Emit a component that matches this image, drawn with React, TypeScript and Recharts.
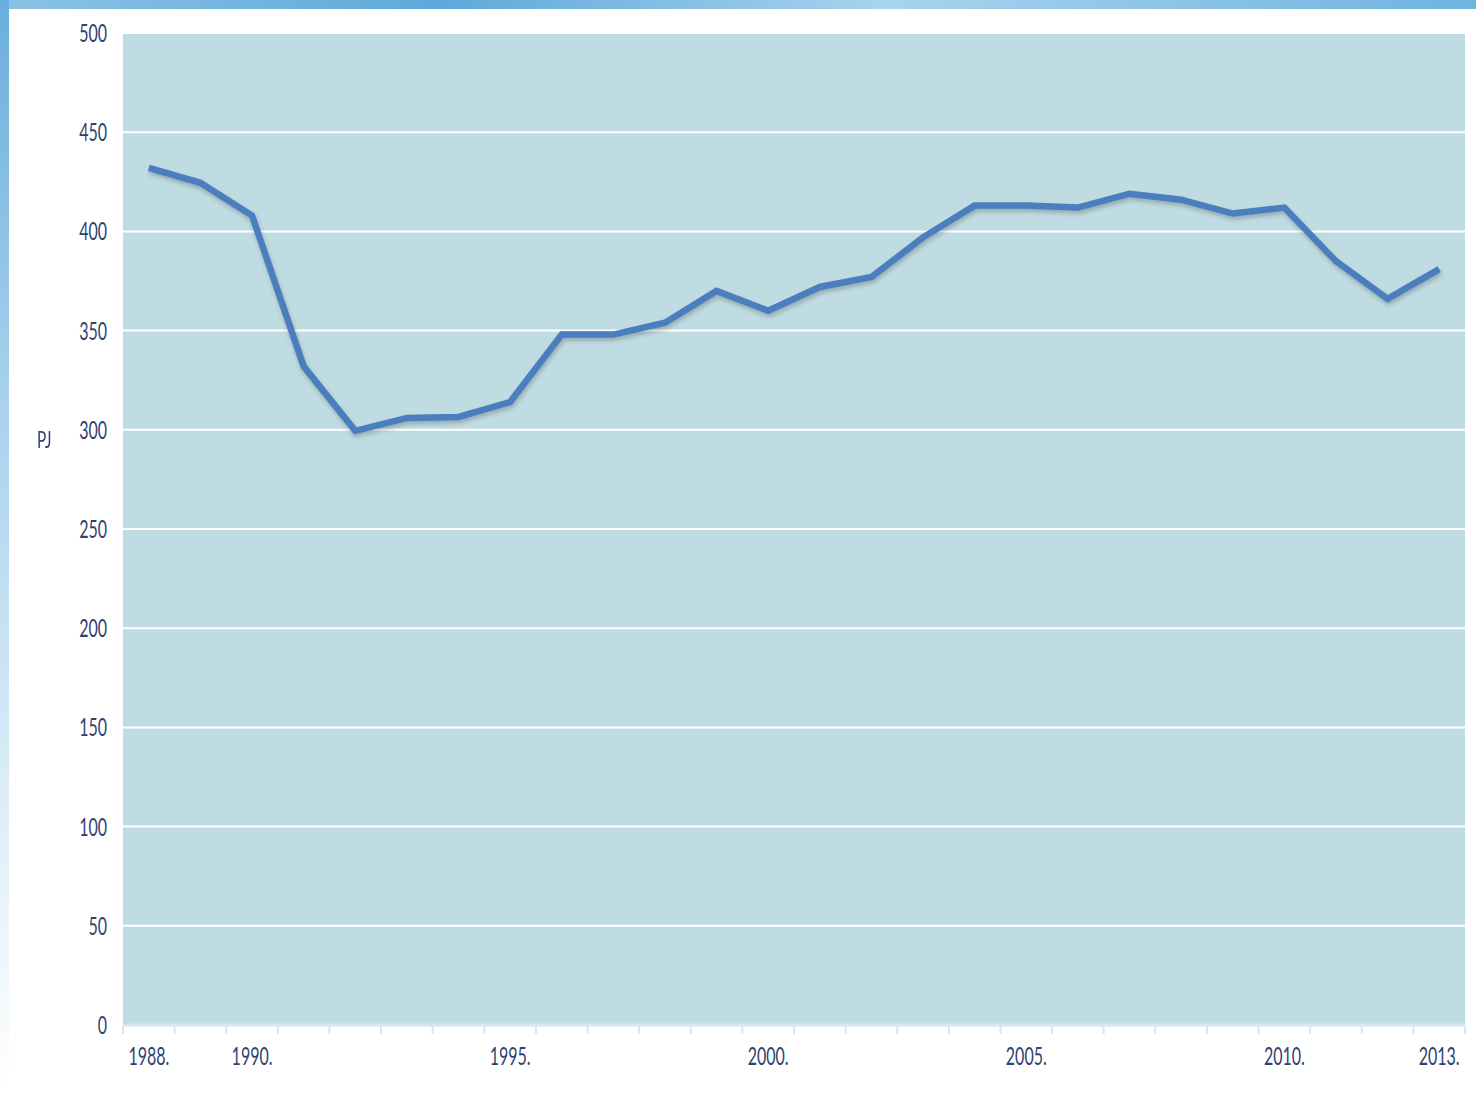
import React from 'react';
import { LineChart, Line, XAxis, YAxis, CartesianGrid } from 'recharts';

const years = [
  '1988', '1989', '1990', '1991', '1992', '1993', '1994', '1995', '1996', '1997', '1998', '1999', '2000',
  '2001', '2002', '2003', '2004', '2005', '2006', '2007', '2008', '2009', '2010', '2011', '2012', '2013',
];
const values = [
  432, 424.5, 408, 332, 299.5, 306, 306.5, 314, 348, 348, 354, 370, 360,
  372, 377, 397, 413, 413, 412, 419, 416, 409, 412, 385, 366, 381,
];
const labeledYears = ['1988', '1990', '1995', '2000', '2005', '2010', '2013'];
const yTicks = [0, 50, 100, 150, 200, 250, 300, 350, 400, 450, 500];
const unitLabel = 'PJ';

const data = years.map((y, i) => ({ year: y, value: values[i] }));

const FONT = "Lato, 'Open Sans', sans-serif";
const TEXT = '#2f416f';
const SX = 0.64;

const XTick = (props: any) => {
  const { x, y, payload, index } = props;
  const off = payload && payload.offset ? payload.offset : 0;
  const label = labeledYears.includes(payload.value) ? payload.value + '.' : '';
  const isLast = index === years.length - 1;
  return (
    <g>
      <line x1={x - off} x2={x - off} y1={y - 7} y2={y + 1} stroke="#d6e6f0" strokeWidth={2} />
      {isLast && <line x1={x + off} x2={x + off} y1={y - 7} y2={y + 1} stroke="#d6e6f0" strokeWidth={2} />}
      {label && (
        <g transform={`translate(${x},${y + 32}) scale(${SX},1)`}>
          <text x={0} y={0} textAnchor="middle" fill={TEXT} fontSize={25} fontFamily={FONT}>
            {label}
          </text>
        </g>
      )}
    </g>
  );
};

const YTick = (props: any) => {
  const { x, y, payload } = props;
  return (
    <g transform={`translate(${x},${y + 9}) scale(${SX},1)`}>
      <text x={0} y={0} textAnchor="end" fill={TEXT} fontSize={25} fontFamily={FONT}>
        {payload.value}
      </text>
    </g>
  );
};

export default function App() {
  return (
    <div style={{ position: 'absolute', left: 0, top: 0, width: 1476, height: 1093, background: '#ffffff', overflow: 'hidden' }}>
      <div style={{ position: 'absolute', left: 0, top: 0, width: 1476, height: 9, background: 'linear-gradient(90deg, #8cc3e6 0%, #5ea9da 30%, #a9d3ee 60%, #6fb4e0 100%)' }} />
      <div style={{ position: 'absolute', left: 0, top: 0, width: 9, height: 1093, background: 'linear-gradient(180deg, #6aaedc 0%, #a6d0ec 35%, #d8ebf7 70%, #ffffff 100%)' }} />
      <div style={{ position: 'absolute', left: 37, top: 424, fontFamily: FONT, fontSize: 24, color: TEXT, transform: `scale(${SX},1)`, transformOrigin: 'left top' }}>{unitLabel}</div>
      <div style={{ position: 'absolute', left: 0, top: 0 }}>
        <LineChart width={1476} height={1093} data={data} margin={{ top: 33, right: 11, bottom: 0, left: 0 }}>
          <CartesianGrid vertical={false} stroke="#ffffff" strokeWidth={2} fill="#bfdce2" fillOpacity={1} />
          <XAxis
            dataKey="year"
            scale="band"
            interval={0}
            height={68}
            axisLine={{ stroke: '#d6e6f0', strokeWidth: 3 }}
            tickLine={false}
            tick={<XTick />}
          />
          <YAxis
            width={123}
            domain={[0, 500]}
            ticks={yTicks}
            axisLine={false}
            tickLine={false}
            tickMargin={10}
            tick={<YTick />}
          />
          <Line
            type="linear"
            dataKey="value"
            stroke="#4a7ebf"
            strokeWidth={6.5}
            dot={false}
            isAnimationActive={false}
            style={{ filter: 'drop-shadow(1px 3px 2px rgba(0,0,0,0.22))' }}
          />
        </LineChart>
      </div>
    </div>
  );
}
